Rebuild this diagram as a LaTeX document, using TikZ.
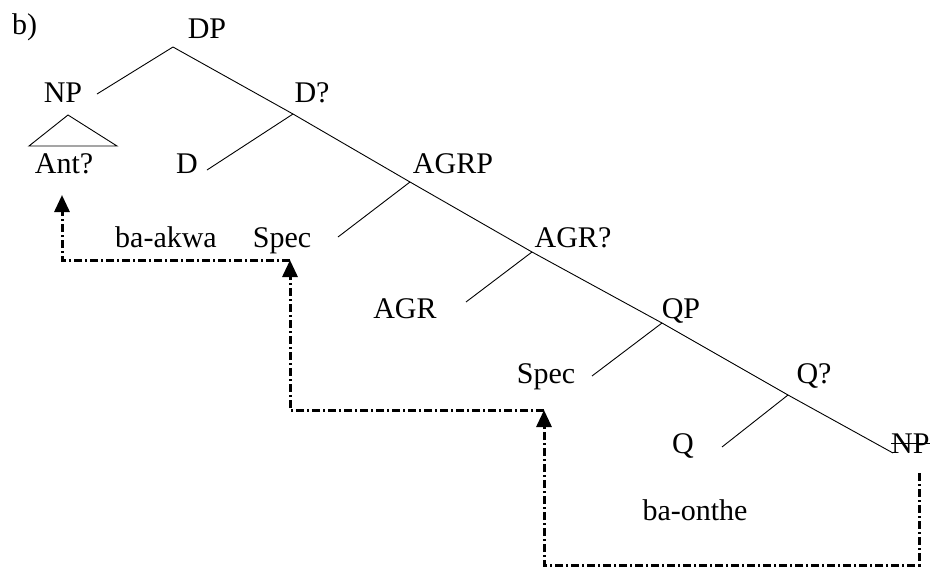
\documentclass[tikz,border=0pt]{standalone}
\usepackage{fontspec}
\setmainfont{Liberation Serif}
\usetikzlibrary{arrows.meta}
\begin{document}
\begin{tikzpicture}[x=1pt,y=-1pt,
  lbl/.style={anchor=base,inner sep=0pt,font=\fontsize{30}{32}\selectfont},
  branch/.style={line width=0.9pt},
  move/.style={line width=3pt,dash pattern=on 8pt off 3pt on 2pt off 3pt,
    -{Triangle[length=17pt,width=15pt]}}]
\useasboundingbox (0,0) rectangle (930,568);
% labels
\node[lbl,anchor=base west] (b) at (12,34) {b)};
\node[lbl] (DP) at (207,38) {DP};
\node[lbl] (NP) at (63,102) {NP};
\node[lbl] (Ant) at (64,173) {Ant?};
\node[lbl] (Dbar) at (312,102) {D?};
\node[lbl] (D) at (187,173) {D};
\node[lbl] (AGRP) at (453,173) {AGRP};
\node[lbl] (baakwa) at (166,247) {ba-akwa};
\node[lbl] (Spec1) at (282,247) {Spec};
\node[lbl] (AGRbar) at (573,247) {AGR?};
\node[lbl] (AGR) at (405,318) {AGR};
\node[lbl] (QP) at (681,318) {QP};
\node[lbl] (Spec2) at (546,383) {Spec};
\node[lbl] (Qbar) at (814,383) {Q?};
\node[lbl] (Q) at (683,453) {Q};
\node[lbl,anchor=base west] (NPt) at (891,453) {NP};
\node[lbl] (baonthe) at (695,520) {ba-onthe};
\draw[line width=0.9pt] ([yshift=10pt]NPt.base west) -- ([yshift=10pt]NPt.base east);
% tree coordinates
\coordinate (dp) at (173,47);
\coordinate (npend) at (97,94);
\coordinate (dbar) at (293,114);
\coordinate (dend) at (207,170);
\coordinate (agrp) at (410,182);
\coordinate (specend) at (338,237);
\coordinate (agrbar) at (532,252);
\coordinate (agrend) at (466,302);
\coordinate (qp) at (662,323);
\coordinate (spec2end) at (592,376);
\coordinate (qbar) at (788,395);
\coordinate (qend) at (722,447);
\coordinate (npfinal) at (893,453);
\coordinate (tri) at (68,115);
\coordinate (tril) at (29,146);
\coordinate (trir) at (117,146);
% tree branches
\draw[branch] (npend) -- (dp);
\draw[branch] (dp) -- (dbar) -- (agrp) -- (agrbar) -- (qp) -- (qbar) -- (npfinal);
\draw[branch] (dbar) -- (dend);
\draw[branch] (agrp) -- (specend);
\draw[branch] (agrbar) -- (agrend);
\draw[branch] (qp) -- (spec2end);
\draw[branch] (qbar) -- (qend);
\draw[branch] (tril) -- (tri) -- (trir) -- cycle;
% movement coordinates
\coordinate (m0) at (919,473);
\coordinate (m1) at (919,565);
\coordinate (m2) at (544,565);
\coordinate (t1) at (544,410);
\coordinate (m3) at (290,410);
\coordinate (t2) at (290,260);
\coordinate (m4) at (62,260);
\coordinate (t3) at (62,195);
\draw[move] (m0) -- (m1) -- (m2) -- (t1);
\draw[move] (t1) -- (m3) -- (t2);
\draw[move] (t2) -- (m4) -- (t3);
\end{tikzpicture}
\end{document}
